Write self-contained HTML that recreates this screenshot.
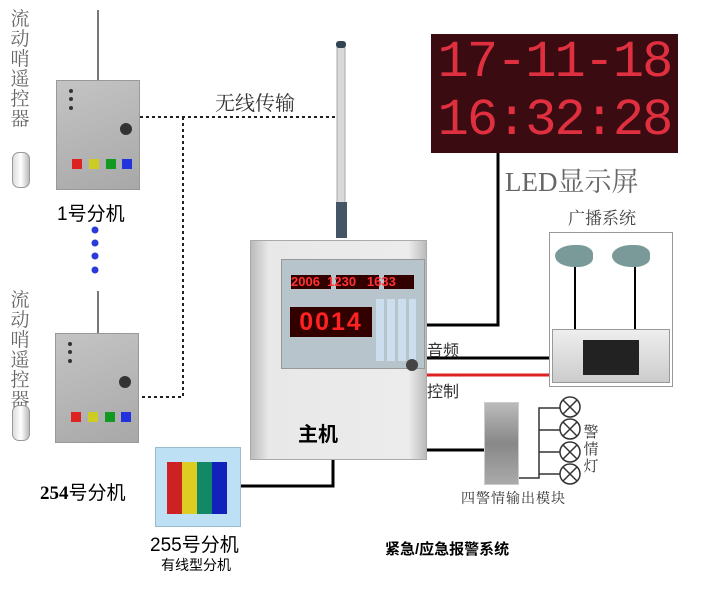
<!DOCTYPE html>
<html><head><meta charset="utf-8"><style>
body{margin:0;width:704px;height:589px;background:#fff;position:relative;overflow:hidden;font-family:"Liberation Sans","Noto Sans CJK SC",sans-serif}
.a{position:absolute}
.vt{position:absolute;font-family:"Liberation Serif","Noto Serif CJK SC",serif;color:#666;font-size:19px;line-height:20px;width:22px;text-align:center}
.dev{position:absolute;width:82px;height:108px;background:linear-gradient(160deg,#c4c4c4,#a8a8a8);border:1px solid #999}
.dot{position:absolute;width:4px;height:4px;border-radius:2px;background:#333;left:12px}
.btn{position:absolute;top:78px;width:10px;height:10px}
.ant{position:absolute;width:2px;background:#777}
.remote{position:absolute;width:16px;height:34px;border-radius:7px;background:linear-gradient(90deg,#ddd,#fff,#bbb);border:1px solid #999}
</style></head><body>
<svg class="a" style="left:0;top:0" width="704" height="589">
<g stroke="#222" stroke-width="2" stroke-dasharray="3,3" fill="none">
<path d="M140 117 H338"/><path d="M183 117 V397 H138"/>
</g>
<g stroke="#000" stroke-width="3" fill="none">
<path d="M498 153 V325 H422"/>
<path d="M422 358 H553"/>
<path d="M333 445 V486 H240"/>
<path d="M410 432 V450 H484"/>
</g>
<path d="M422 375 H553" stroke="#d22" stroke-width="3"/>
<g stroke="#333" stroke-width="1.5" fill="none">
<path d="M505 478 H539 V408 H560 M539 430 H560 M539 452 H560 M539 474 H560"/>
<g fill="#fff"><circle cx="570" cy="407" r="10"/><circle cx="570" cy="429" r="10"/><circle cx="570" cy="452" r="10"/><circle cx="570" cy="474" r="10"/></g>
<path d="M563 400 l14 14 m0 -14 l-14 14 M563 422 l14 14 m0 -14 l-14 14 M563 445 l14 14 m0 -14 l-14 14 M563 467 l14 14 m0 -14 l-14 14"/>
</g>
<g fill="#2a3ad8"><circle cx="95" cy="230" r="3.5"/><circle cx="95" cy="243" r="3.5"/><circle cx="95" cy="256" r="3.5"/><circle cx="95" cy="270" r="3.5"/></g>
<rect x="337" y="44" width="8" height="160" fill="#d8d8d8" stroke="#aaa"/>
<rect x="336" y="41" width="10" height="7" rx="3" fill="#345"/>
<rect x="336" y="202" width="11" height="36" fill="#445566"/>
</svg>
<div class="vt" style="left:9px;top:10px">流动哨遥控器</div>
<div class="vt" style="left:9px;top:291px">流动哨遥控器</div>
<div class="remote" style="left:12px;top:152px"></div>
<div class="remote" style="left:12px;top:405px"></div>
<div class="ant" style="left:97px;top:10px;height:70px"></div>
<div class="ant" style="left:97px;top:291px;height:42px"></div>
<div class="dev" style="left:56px;top:80px"><div class="dot" style="top:8px"></div><div class="dot" style="top:16px"></div><div class="dot" style="top:25px"></div><div class="a" style="left:63px;top:42px;width:12px;height:12px;border-radius:6px;background:#333"></div>
<div class="btn" style="left:15px;background:#d22"></div><div class="btn" style="left:32px;background:#cc2"></div><div class="btn" style="left:49px;background:#192"></div><div class="btn" style="left:65px;background:#23d"></div></div>
<div class="dev" style="left:55px;top:333px"><div class="dot" style="top:8px"></div><div class="dot" style="top:16px"></div><div class="dot" style="top:25px"></div><div class="a" style="left:63px;top:42px;width:12px;height:12px;border-radius:6px;background:#333"></div>
<div class="btn" style="left:15px;background:#d22"></div><div class="btn" style="left:32px;background:#cc2"></div><div class="btn" style="left:49px;background:#192"></div><div class="btn" style="left:65px;background:#23d"></div></div>
<div class="a" style="left:57px;top:199px;font-size:19px">1号分机</div>
<div class="a" style="left:40px;top:478px;font-size:19px"><b style="font-family:'Liberation Serif',serif">254</b>号分机</div>
<div class="a" style="left:215px;top:87px;font-size:20px;color:#333;font-family:'Liberation Serif','Noto Serif CJK SC',serif">无线传输</div>
<div class="a" style="left:250px;top:240px;width:175px;height:218px;background:linear-gradient(90deg,#bbb,#e8e8e8 10%,#ececec 90%,#bbb);border:1px solid #aaa">
<div class="a" style="left:30px;top:18px;width:142px;height:108px;background:#b8c4cc;border:1px solid #999"></div>
<div class="a" style="left:40px;top:34px;width:40px;height:14px;background:#300"></div>
<div class="a" style="left:85px;top:34px;width:43px;height:14px;background:#300"></div>
<div class="a" style="left:133px;top:34px;width:30px;height:14px;background:#300"></div>
<div class="a" style="left:40px;color:#f33;font-size:13px;font-weight:bold;line-height:1;top:34px">2006 &nbsp;1230 &nbsp; 1633</div>
<div class="a" style="left:39px;top:66px;width:82px;height:30px;background:#300;color:#f22;font-size:25px;font-weight:bold;line-height:30px;text-align:center;letter-spacing:2px">0014</div>
<div class="a" style="left:125px;top:58px;width:40px;height:62px;background:repeating-linear-gradient(90deg,#cde 0 8px,transparent 8px 11px)"></div>
<div class="a" style="left:155px;top:118px;width:12px;height:12px;border-radius:6px;background:#444"></div>
</div>
<div class="a" style="left:298px;top:418px;font-size:20px;font-weight:bold">主机</div>
<div class="a" style="left:155px;top:447px;width:84px;height:78px;background:#bde0f4;border:1px solid #9bc">
<div class="a" style="left:11px;top:14px;width:15px;height:52px;background:#c22"></div>
<div class="a" style="left:26px;top:14px;width:15px;height:52px;background:#dc2"></div>
<div class="a" style="left:41px;top:14px;width:15px;height:52px;background:#186"></div>
<div class="a" style="left:56px;top:14px;width:15px;height:52px;background:#12b"></div></div>
<div class="a" style="left:150px;top:530px;font-size:19px">255号分机</div>
<div class="a" style="left:161px;top:555px;font-size:14px">有线型分机</div>
<div class="a" style="left:431px;top:34px;width:247px;height:119px;background:#3a0b10;color:#e03040;font-family:'Liberation Mono',monospace;font-size:52px;line-height:58px;text-align:center;letter-spacing:-2px">17-11-18<br>16:32:28</div>
<div class="a" style="left:505px;top:160px;font-size:27px;color:#666;font-family:'Liberation Serif','Noto Serif CJK SC',serif">LED显示屏</div>
<div class="a" style="left:568px;top:204px;font-size:17px;color:#444;font-family:'Liberation Serif','Noto Serif CJK SC',serif">广播系统</div>
<div class="a" style="left:549px;top:232px;width:122px;height:153px;border:1px solid #999;background:#fff">
<div class="a" style="left:24px;top:28px;width:2px;height:68px;background:#000"></div>
<div class="a" style="left:84px;top:28px;width:2px;height:68px;background:#000"></div>
<div class="a" style="left:5px;top:12px;width:38px;height:22px;border-radius:50% 40% 40% 50%;background:#7a9a9a"></div>
<div class="a" style="left:62px;top:12px;width:38px;height:22px;border-radius:50% 40% 40% 50%;background:#7a9a9a"></div>
<div class="a" style="left:2px;top:96px;width:116px;height:52px;background:linear-gradient(#eee,#ccc);border:1px solid #999">
<div class="a" style="left:30px;top:10px;width:56px;height:35px;background:#222"></div></div></div>
<div class="a" style="left:427px;top:337px;font-size:16px;color:#333">音频</div>
<div class="a" style="left:427px;top:378px;font-size:16px;color:#333">控制</div>
<div class="a" style="left:484px;top:402px;width:33px;height:81px;background:linear-gradient(#bbb,#888,#aaa);border:1px solid #ccc"></div>
<div class="a" style="left:461px;top:488px;font-size:14px;color:#333;letter-spacing:1px;font-family:'Liberation Serif','Noto Serif CJK SC',serif">四警情输出模块</div>
<div class="vt" style="left:583px;top:425px;font-size:15px;line-height:17px;width:16px;color:#333">警情灯</div>
<div class="a" style="left:385px;top:538px;font-size:15px;font-weight:bold">紧急/应急报警系统</div>
</body></html>
